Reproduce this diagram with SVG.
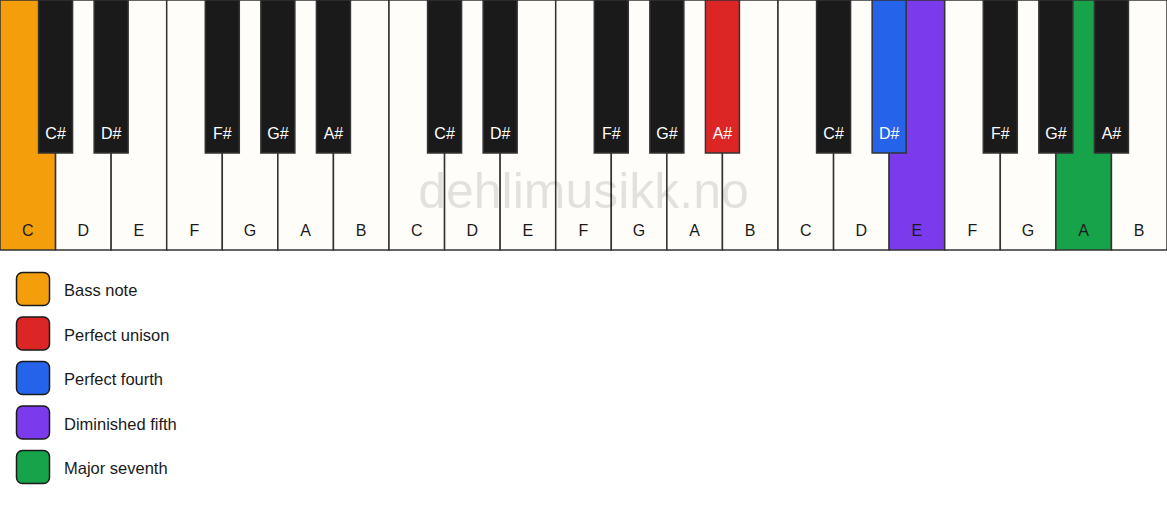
<svg xmlns="http://www.w3.org/2000/svg" width="1167" height="506" viewBox="0 0 1167 506">
<style>
.w{fill:#fffdf9;stroke:#333;stroke-width:1.5}
.b{fill:#1a1a1a;stroke:#333;stroke-width:1.5}
.wl{font-family:"Liberation Sans",Arial,sans-serif;font-size:16px;fill:#1a1a1a;text-anchor:middle}
.bl{font-family:"Liberation Sans",Arial,sans-serif;font-size:16px;fill:#ffffff;text-anchor:middle}
.lg{stroke:#1a1a1a;stroke-width:1.5}
.lt{font-family:"Liberation Sans",Arial,sans-serif;font-size:16.5px;fill:#1a1a1a}
.wm{font-family:"Liberation Sans",Arial,sans-serif;font-size:50px;fill:#000;fill-opacity:0.11;text-anchor:middle}
</style>
<rect width="1167" height="506" fill="#ffffff"/>
<g id="white-keys">
<g id="w0"><rect class="w" x="0" y="0" width="55.57" height="250" style="fill:#f59e0b"/><text class="wl" x="27.79" y="236">C</text></g>
<g id="w1"><rect class="w" x="55.57" y="0" width="55.57" height="250"/><text class="wl" x="83.36" y="236">D</text></g>
<g id="w2"><rect class="w" x="111.14" y="0" width="55.57" height="250"/><text class="wl" x="138.93" y="236">E</text></g>
<g id="w3"><rect class="w" x="166.71" y="0" width="55.57" height="250"/><text class="wl" x="194.5" y="236">F</text></g>
<g id="w4"><rect class="w" x="222.29" y="0" width="55.57" height="250"/><text class="wl" x="250.07" y="236">G</text></g>
<g id="w5"><rect class="w" x="277.86" y="0" width="55.57" height="250"/><text class="wl" x="305.64" y="236">A</text></g>
<g id="w6"><rect class="w" x="333.43" y="0" width="55.57" height="250"/><text class="wl" x="361.21" y="236">B</text></g>
<g id="w7"><rect class="w" x="389" y="0" width="55.57" height="250"/><text class="wl" x="416.79" y="236">C</text></g>
<g id="w8"><rect class="w" x="444.57" y="0" width="55.57" height="250"/><text class="wl" x="472.36" y="236">D</text></g>
<g id="w9"><rect class="w" x="500.14" y="0" width="55.57" height="250"/><text class="wl" x="527.93" y="236">E</text></g>
<g id="w10"><rect class="w" x="555.71" y="0" width="55.57" height="250"/><text class="wl" x="583.5" y="236">F</text></g>
<g id="w11"><rect class="w" x="611.29" y="0" width="55.57" height="250"/><text class="wl" x="639.07" y="236">G</text></g>
<g id="w12"><rect class="w" x="666.86" y="0" width="55.57" height="250"/><text class="wl" x="694.64" y="236">A</text></g>
<g id="w13"><rect class="w" x="722.43" y="0" width="55.57" height="250"/><text class="wl" x="750.21" y="236">B</text></g>
<g id="w14"><rect class="w" x="778" y="0" width="55.57" height="250"/><text class="wl" x="805.79" y="236">C</text></g>
<g id="w15"><rect class="w" x="833.57" y="0" width="55.57" height="250"/><text class="wl" x="861.36" y="236">D</text></g>
<g id="w16"><rect class="w" x="889.14" y="0" width="55.57" height="250" style="fill:#7c3aed"/><text class="wl" x="916.93" y="236">E</text></g>
<g id="w17"><rect class="w" x="944.71" y="0" width="55.57" height="250"/><text class="wl" x="972.5" y="236">F</text></g>
<g id="w18"><rect class="w" x="1000.29" y="0" width="55.57" height="250"/><text class="wl" x="1028.07" y="236">G</text></g>
<g id="w19"><rect class="w" x="1055.86" y="0" width="55.57" height="250" style="fill:#16a34a"/><text class="wl" x="1083.64" y="236">A</text></g>
<g id="w20"><rect class="w" x="1111.43" y="0" width="55.57" height="250"/><text class="wl" x="1139.21" y="236">B</text></g>
</g>
<text class="wm" x="583.5" y="208">dehlimusikk.no</text>
<g id="black-keys">
<g id="b1"><rect class="b" x="38.57" y="0" width="34" height="153"/><text class="bl" x="55.57" y="139">C#</text></g>
<g id="b2"><rect class="b" x="94.14" y="0" width="34" height="153"/><text class="bl" x="111.14" y="139">D#</text></g>
<g id="b4"><rect class="b" x="205.29" y="0" width="34" height="153"/><text class="bl" x="222.29" y="139">F#</text></g>
<g id="b5"><rect class="b" x="260.86" y="0" width="34" height="153"/><text class="bl" x="277.86" y="139">G#</text></g>
<g id="b6"><rect class="b" x="316.43" y="0" width="34" height="153"/><text class="bl" x="333.43" y="139">A#</text></g>
<g id="b8"><rect class="b" x="427.57" y="0" width="34" height="153"/><text class="bl" x="444.57" y="139">C#</text></g>
<g id="b9"><rect class="b" x="483.14" y="0" width="34" height="153"/><text class="bl" x="500.14" y="139">D#</text></g>
<g id="b11"><rect class="b" x="594.29" y="0" width="34" height="153"/><text class="bl" x="611.29" y="139">F#</text></g>
<g id="b12"><rect class="b" x="649.86" y="0" width="34" height="153"/><text class="bl" x="666.86" y="139">G#</text></g>
<g id="b13"><rect class="b" x="705.43" y="0" width="34" height="153" style="fill:#dc2626"/><text class="bl" x="722.43" y="139">A#</text></g>
<g id="b15"><rect class="b" x="816.57" y="0" width="34" height="153"/><text class="bl" x="833.57" y="139">C#</text></g>
<g id="b16"><rect class="b" x="872.14" y="0" width="34" height="153" style="fill:#2563eb"/><text class="bl" x="889.14" y="139">D#</text></g>
<g id="b18"><rect class="b" x="983.29" y="0" width="34" height="153"/><text class="bl" x="1000.29" y="139">F#</text></g>
<g id="b19"><rect class="b" x="1038.86" y="0" width="34" height="153"/><text class="bl" x="1055.86" y="139">G#</text></g>
<g id="b20"><rect class="b" x="1094.43" y="0" width="34" height="153"/><text class="bl" x="1111.43" y="139">A#</text></g>
</g>
<g id="legend">
<g id="lg-bass"><rect class="lg" x="16.5" y="272.5" width="33" height="33" rx="6" fill="#f59e0b"/><text class="lt" x="64" y="296">Bass note</text></g>
<g id="lg-unison"><rect class="lg" x="16.5" y="317" width="33" height="33" rx="6" fill="#dc2626"/><text class="lt" x="64" y="340.5">Perfect unison</text></g>
<g id="lg-fourth"><rect class="lg" x="16.5" y="361.5" width="33" height="33" rx="6" fill="#2563eb"/><text class="lt" x="64" y="385">Perfect fourth</text></g>
<g id="lg-dim5"><rect class="lg" x="16.5" y="406" width="33" height="33" rx="6" fill="#7c3aed"/><text class="lt" x="64" y="429.5">Diminished fifth</text></g>
<g id="lg-maj7"><rect class="lg" x="16.5" y="450.5" width="33" height="33" rx="6" fill="#16a34a"/><text class="lt" x="64" y="474">Major seventh</text></g>
</g>
</svg>
